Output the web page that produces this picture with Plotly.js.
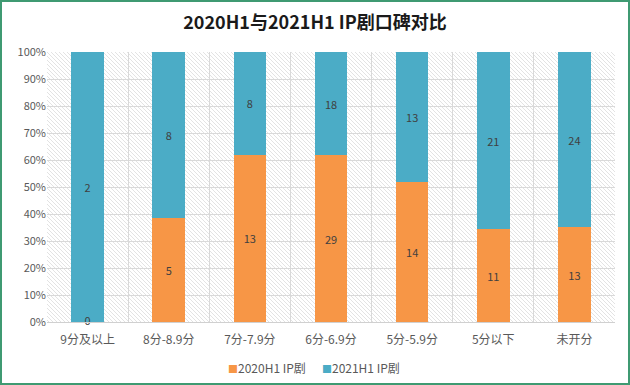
<!DOCTYPE html>
<html>
<head>
<meta charset="utf-8">
<script src="https://cdn.plot.ly/plotly-3.0.1.min.js"></script>
<style>
html,body{margin:0;padding:0;background:#fff;}
#wrap{width:626px;height:381px;border:2px solid #3f9a72;}
#chart{width:626px;height:381px;}
</style>
</head>
<body>
<div id="wrap"><div id="chart"></div></div>
<script>
const categories = ['9分及以上', '8分-8.9分', '7分-7.9分', '6分-6.9分', '5分-5.9分', '5分以下', '未开分'];
const series2020 = [0, 5, 13, 29, 14, 11, 13];
const series2021 = [2, 8, 8, 18, 13, 21, 24];
const seriesNames = ['2020H1 IP剧', '2021H1 IP剧'];
const seriesColors = ['#F79646', '#4BACC6'];
const yTicks = [0, 10, 20, 30, 40, 50, 60, 70, 80, 90, 100];

const font = '"Noto Sans CJK SC", "Microsoft YaHei", sans-serif';

const hatch = 'data:image/svg+xml;utf8,' + encodeURIComponent(
  '<svg xmlns="http://www.w3.org/2000/svg" width="568" height="270">' +
  '<defs><pattern id="p" width="4" height="4" patternUnits="userSpaceOnUse">' +
  '<path d="M-1,-1 L5,5 M-1,3 L1,5 M3,-1 L5,1" stroke="#dcdcdc" stroke-width="0.8"/></pattern></defs>' +
  '<rect width="568" height="270" fill="url(#p)"/></svg>');

const labelFont = {family: font, size: 11, color: '#404040'};

const common = {
  type: 'bar',
  x: categories,
  textposition: 'inside',
  insidetextanchor: 'middle',
  constraintext: 'none',
  textfont: labelFont,
  hoverinfo: 'skip',
  showlegend: false
};

const traces = [
  Object.assign({}, common, {
    name: seriesNames[0], y: series2020, text: series2020.map(String),
    marker: {color: seriesColors[0]}
  }),
  Object.assign({}, common, {
    name: seriesNames[1], y: series2021, text: series2021.map(String),
    marker: {color: seriesColors[1]}
  })
];

// labels for zero-height segments (drawn at the base of the stack)
const zeroIdx = series2020.map((v, i) => v === 0 ? i : -1).filter(i => i >= 0);
traces.push({
  type: 'scatter', mode: 'text',
  x: zeroIdx.map(i => categories[i]),
  y: zeroIdx.map(() => 0),
  text: zeroIdx.map(i => String(series2020[i])),
  textposition: 'middle center',
  textfont: labelFont,
  cliponaxis: false,
  hoverinfo: 'skip', showlegend: false
});

const legendText = seriesNames.map((n, i) =>
  '<span style="color:' + seriesColors[i] + ';font-size:10px">■</span>' + n).join('      ');

const layout = {
  width: 626, height: 381,
  margin: {l: 45, r: 13, t: 50, b: 61, autoexpand: false},
  barmode: 'stack',
  barnorm: 'percent',
  bargap: 0.6,
  paper_bgcolor: '#ffffff',
  plot_bgcolor: 'rgba(0,0,0,0)',
  showlegend: false,
  title: {text: '<b>2020H1与2021H1 IP剧口碑对比</b>', x: 0.5, xanchor: 'center', y: 0.945, yanchor: 'middle',
          font: {family: font, size: 18, color: '#1a1a1a'}},
  xaxis: {
    type: 'category',
    tickson: 'boundaries',
    showgrid: true, gridcolor: '#d9d9d9', gridwidth: 1,
    showline: true, linecolor: '#d0d0d0', linewidth: 1,
    ticks: '', ticklen: 0, ticklabelstandoff: 7,
    tickfont: {family: font, size: 12, color: '#595959'},
    fixedrange: true, automargin: false
  },
  yaxis: {
    range: [0, 100],
    tickvals: yTicks,
    ticktext: yTicks.map(v => v + '%'),
    showgrid: true, gridcolor: '#d9d9d9', gridwidth: 1,
    zeroline: false, showline: false, ticks: '',
    tickfont: {family: font, size: 11, color: '#595959'},
    fixedrange: true, automargin: false
  },
  annotations: [{
    text: legendText, xref: 'paper', yref: 'paper', x: 0.47, y: -0.17,
    xanchor: 'center', yanchor: 'middle', showarrow: false,
    font: {family: font, size: 12, color: '#595959'}
  }],
  images: [{
    source: hatch, xref: 'paper', yref: 'paper', x: 0, y: 1, sizex: 1, sizey: 1,
    xanchor: 'left', yanchor: 'top', sizing: 'stretch', layer: 'below'
  }]
};

Plotly.newPlot('chart', traces, layout, {displayModeBar: false, staticPlot: true});
</script>
</body>
</html>
